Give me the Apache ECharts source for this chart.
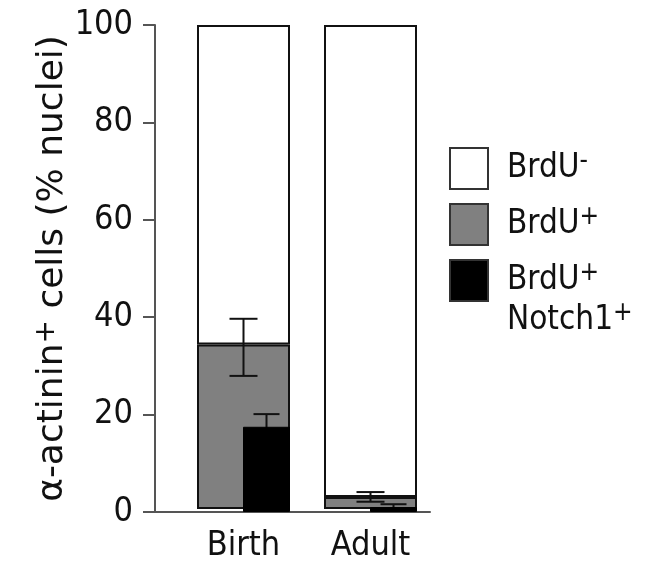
<!DOCTYPE html>
<html><head><meta charset="utf-8">
<script src="https://cdn.jsdelivr.net/npm/echarts@6/dist/echarts.min.js"></script>
<style>html,body{margin:0;padding:0;background:#fff}#c{width:667px;height:563px}</style>
</head><body><div id="c"></div>
<script>
// ---- data ----
var categories = ['Birth', 'Adult'];
var brduNeg = [66, 97.5];          // BrdU- (white, stacked on top)
var brduPos = [34, 2.5];           // BrdU+ (gray)
var brduPosLow = [27.5, 1.5];      // error bar low
var brduPosHigh = [39.3, 3.5];     // error bar high
var notchPos = [17.5, 1.0];        // BrdU+ Notch1+ (black)
var notchLow = [15, 0.5];
var notchHigh = [20.1, 1.6];
var yTicks = [0, 20, 40, 60, 80, 100];
var legendNames = ['BrdU-', 'BrdU+', 'BrdU+ Notch1+'];

var FONT = "'DejaVu Sans Condensed', 'DejaVu Sans', sans-serif";
var FONT2 = "'DejaVu Sans', sans-serif";
var TXT = '#111';

function errSeries(name, xi, yi, low, high, cap) {
  return {
    type: 'custom', name: name, xAxisIndex: xi, yAxisIndex: yi, z: 5,
    data: categories.map(function (c, i) { return [i, low[i], high[i]]; }),
    renderItem: function (params, api) {
      var lo = api.coord([api.value(0), api.value(1)]);
      var hi = api.coord([api.value(0), api.value(2)]);
      var x = lo[0];
      var st = { stroke: '#111', lineWidth: 2 };
      return { type: 'group', children: [
        { type: 'line', shape: { x1: x, y1: lo[1], x2: x, y2: hi[1] }, style: st },
        { type: 'line', shape: { x1: x - cap / 2, y1: hi[1], x2: x + cap / 2, y2: hi[1] }, style: st },
        { type: 'line', shape: { x1: x - cap / 2, y1: lo[1], x2: x + cap / 2, y2: lo[1] }, style: st }
      ]};
    }
  };
}

var supRich = {
  b: { fontSize: 33, fontFamily: FONT, color: TXT, lineHeight: 40 },
  s: { fontSize: 26, fontFamily: FONT, color: TXT, lineHeight: 22, verticalAlign: 'top' }
};

var option = {
  animation: false,
  backgroundColor: '#fff',
  textStyle: { fontFamily: FONT },
  grid: [
    { left: 155, right: 237, top: 25, bottom: 51 },
    { left: 180, right: 233, top: 25, bottom: 51 },
    { left: 203, right: 210, top: 25, bottom: 51 }
  ],
  xAxis: [
    { gridIndex: 0, type: 'value', min: 0, max: 1, axisLine: { show: true, lineStyle: { color: '#555', width: 2 } },
      axisTick: { show: false }, axisLabel: { show: false }, splitLine: { show: false } },
    { gridIndex: 1, type: 'category', data: categories, axisLine: { show: false }, axisTick: { show: false },
      axisLabel: { fontSize: 34, color: TXT, fontFamily: FONT, margin: 20 } },
    { gridIndex: 2, type: 'category', data: categories, show: false }
  ],
  yAxis: [
    { gridIndex: 0, type: 'value', min: 0, max: 100, interval: 20,
      axisLine: { show: true, lineStyle: { color: '#555', width: 2 } },
      axisTick: { show: true, length: 12, lineStyle: { color: '#555', width: 2 } },
      axisLabel: { fontSize: 34, color: TXT, fontFamily: FONT, margin: 22 },
      splitLine: { show: false },
      name: '{a|α-actinin}{s|+}{a| cells (% nuclei)}',
      nameLocation: 'middle', nameRotate: 90, nameGap: 82,
      nameTextStyle: { rich: {
        a: { fontSize: 36, fontFamily: FONT2, color: TXT, lineHeight: 40 },
        s: { fontSize: 28, fontFamily: FONT2, color: TXT, lineHeight: 20, verticalAlign: 'top' }
      } } },
    { gridIndex: 1, type: 'value', min: 0, max: 100, show: false },
    { gridIndex: 2, type: 'value', min: 0, max: 100, show: false }
  ],
  legend: {
    orient: 'vertical', left: 449, top: 147, padding: 0, itemWidth: 38, itemHeight: 41, itemGap: 13,
    icon: 'rect', selectedMode: false,
    itemStyle: { borderColor: '#333', borderWidth: 2 },
    formatter: function (n) {
      if (n === 'BrdU-') return '{b|BrdU}{s|-}';
      if (n === 'BrdU+') return '{b|BrdU}{s|+}';
      return '{b|BrdU}{s|+}\n{b|Notch1}{s|+}';
    },
    textStyle: { padding: [0, 0, 0, 14], rich: supRich },
    data: [
      { name: legendNames[0] },
      { name: legendNames[1] },
      { name: legendNames[2], textStyle: { padding: [40, 0, 0, 14], rich: supRich } }
    ]
  },
  series: [
    { name: legendNames[1], type: 'bar', stack: 's', xAxisIndex: 1, yAxisIndex: 1, barWidth: 93,
      data: brduPos, itemStyle: { color: '#808080', borderColor: '#111', borderWidth: 2 } },
    { name: legendNames[0], type: 'bar', stack: 's', xAxisIndex: 1, yAxisIndex: 1, barWidth: 93,
      data: brduNeg, itemStyle: { color: '#ffffff', borderColor: '#111', borderWidth: 2 } },
    errSeries('errPos', 1, 1, brduPosLow, brduPosHigh, 28),
    { name: legendNames[2], type: 'bar', xAxisIndex: 2, yAxisIndex: 2, barWidth: 47, z: 6,
      data: notchPos, itemStyle: { color: '#000000', borderColor: '#000', borderWidth: 1 } },
    errSeries('errNotch', 2, 2, notchLow, notchHigh, 26)
  ]
};
var chart = echarts.init(document.getElementById('c'), null, { renderer: 'canvas' });
chart.setOption(option);
</script></body></html>
